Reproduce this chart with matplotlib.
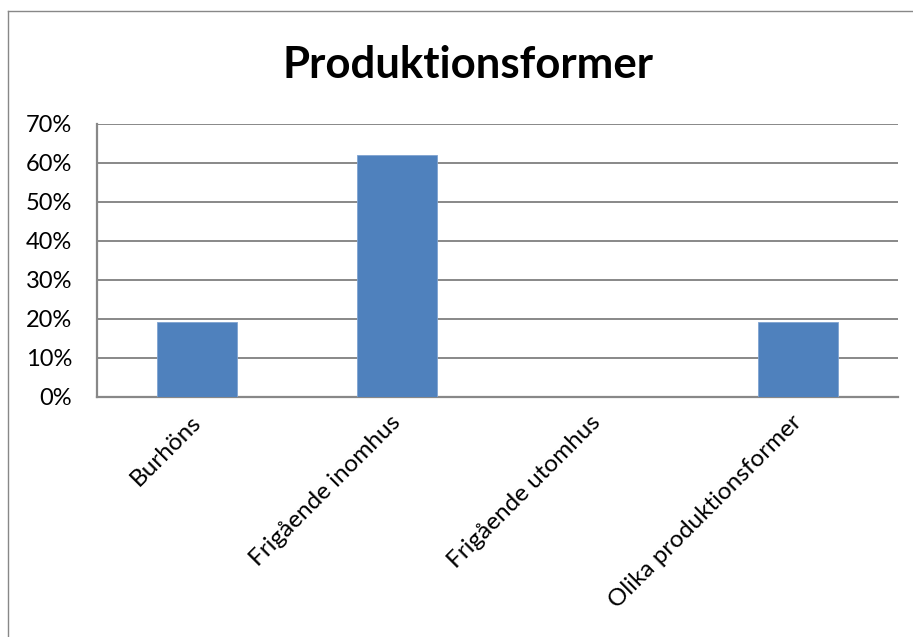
import matplotlib
matplotlib.use("Agg")
import matplotlib.pyplot as plt
from matplotlib.lines import Line2D
from matplotlib.ticker import FuncFormatter

plt.rcParams['font.family'] = ['Lato', 'DejaVu Sans']

# data
kategorier = ['Burhöns', 'Frigående inomhus', 'Frigående utomhus', 'Olika produktionsformer']
andel = [0.19, 0.62, 0.0, 0.19]
y_ticks = [0.0, 0.1, 0.2, 0.3, 0.4, 0.5, 0.6, 0.7]

W, H = 913, 637
fig = plt.figure(figsize=(W / 100, H / 100), dpi=100)
ax = fig.add_axes([97 / W, 1 - 396.5 / H, (898 - 97) / W, (396.5 - 123.5) / H])

grid_c = '#888888'
x = range(len(kategorier))
ax.bar(x, andel, width=0.4, color='#4F81BD', edgecolor='#7FA3D1', linewidth=0.6, zorder=3)

ax.set_xlim(-0.5, len(kategorier) - 0.5)
ax.set_ylim(0, 0.7)
ax.set_yticks(y_ticks)
ax.yaxis.set_major_formatter(FuncFormatter(lambda v, p: f'{v * 100:.0f}%'))
ax.grid(axis='y', color=grid_c, linewidth=1.4, zorder=0)
ax.set_axisbelow(True)

for s in ['top', 'right']:
    ax.spines[s].set_visible(False)
for s in ['left', 'bottom']:
    ax.spines[s].set_color(grid_c)
    ax.spines[s].set_linewidth(1.6)

ax.tick_params(axis='both', length=0, colors='black')
ax.tick_params(axis='y', pad=18, labelsize=17)
ax.set_xticks(list(x))
ax.set_xticklabels(kategorier, rotation=45, ha='right', va='center',
                   rotation_mode='anchor', fontsize=17.5)
ax.tick_params(axis='x', pad=16)

fig.text(468 / W, 1 - 78 / H, 'Produktionsformer', ha='center', va='baseline',
         fontsize=31.5, fontweight='bold')

# chart frame (only left and top edges visible)
fig.add_artist(Line2D([8 / W, 8 / W], [0, 1 - 11 / H], transform=fig.transFigure,
                      color=grid_c, linewidth=1))
fig.add_artist(Line2D([8 / W, 1], [1 - 11 / H, 1 - 11 / H], transform=fig.transFigure,
                      color=grid_c, linewidth=1))

fig.savefig('out.png', dpi=100)
